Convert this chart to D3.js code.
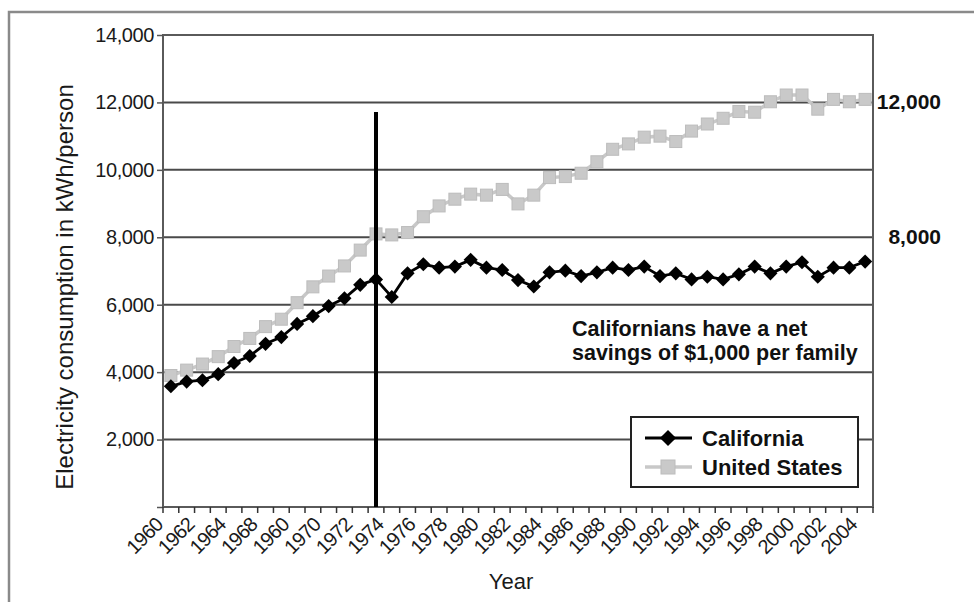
<!DOCTYPE html>
<html>
<head>
<meta charset="utf-8">
<script src="https://cdn.jsdelivr.net/npm/d3@7"></script>
<style>
  html, body { margin: 0; padding: 0; background: #fff; }
  svg { display: block; font-family: "Liberation Sans", Arial, sans-serif; }
</style>
</head>
<body>
<svg id="chart" width="974" height="602"></svg>
<script>
// ---- data ----
const years = [1960,1961,1962,1963,1964,1965,1966,1967,1968,1969,
               1970,1971,1972,1973,1974,1975,1976,1977,1978,1979,
               1980,1981,1982,1983,1984,1985,1986,1987,1988,1989,
               1990,1991,1992,1993,1994,1995,1996,1997,1998,1999,
               2000,2001,2002,2003,2004];
const california = [3580,3720,3760,3940,4270,4480,4840,5040,5430,5660,
                    5960,6190,6590,6750,6230,6930,7200,7100,7130,7330,
                    7100,7030,6730,6540,6960,7010,6850,6960,7100,7030,
                    7130,6850,6930,6750,6830,6750,6900,7130,6930,7130,
                    7260,6830,7100,7100,7280];
const unitedStates = [3900,4060,4240,4460,4760,5000,5350,5570,6060,6530,
                      6850,7150,7620,8100,8070,8140,8610,8930,9130,9280,
                      9250,9420,8990,9250,9770,9800,9900,10240,10610,10770,
                      10970,11000,10840,11150,11360,11530,11730,11710,12020,12220,
                      12220,11800,12090,12020,12090];
const xTickLabels = ["1960","1962","1964","1968","1960","1970","1972","1974",
                     "1976","1978","1980","1982","1984","1986","1988","1990",
                     "1992","1994","1996","1998","2000","2002","2004"];
const yTicks = [0,2000,4000,6000,8000,10000,12000,14000];
const markerYear = 1973;
const rightLabels = [12000, 8000];
const annotation = ["Californians have a net", "savings of $1,000 per family"];
const seriesNames = ["California", "United States"];

// ---- layout ----
const svg = d3.select("#chart");
const L = 163, R = 873, T = 35, B = 507;

// outer frame
svg.append("rect").attr("x", 9).attr("y", 12).attr("width", 1000).attr("height", 700)
  .attr("fill", "none").attr("stroke", "#8a8a8a").attr("stroke-width", 2.5);

const x = d3.scaleBand().domain(years).range([L, R]).padding(0);
const cx = d => x(d) + x.bandwidth() / 2;
const y = d3.scaleLinear().domain([0, 14000]).range([B, T]);

// gridlines
svg.append("g").selectAll("line").data(yTicks.filter(v => v > 0 && v < 14000)).join("line")
  .attr("x1", L).attr("x2", R).attr("y1", d => y(d)).attr("y2", d => y(d))
  .attr("stroke", "#4a4a4a").attr("stroke-width", 2);

// plot frame
svg.append("rect").attr("x", L).attr("y", y(14000)).attr("width", R - L).attr("height", y(0) - y(14000))
  .attr("fill", "none").attr("stroke", "#5a5a5a").attr("stroke-width", 2);

// y axis ticks + labels
const yAxis = d3.axisLeft(y).tickValues(yTicks).tickSize(6).tickPadding(3)
  .tickFormat(d => d === 0 ? "" : d3.format(",")(d));
const gy = svg.append("g").attr("transform", `translate(${L},0)`).call(yAxis);
gy.select(".domain").remove();
gy.selectAll(".tick line").attr("stroke", "#555").attr("stroke-width", 1.5);
gy.selectAll(".tick text").attr("font-size", 20).attr("fill", "#1a1a1a")
  .attr("font-family", "'Liberation Sans', Arial, sans-serif").attr("letter-spacing", "-0.4");

// x axis ticks at band boundaries
const boundaries = years.map(d => x(d)).concat([R]);
svg.append("g").selectAll("line").data(boundaries).join("line")
  .attr("x1", d => d).attr("x2", d => d).attr("y1", B).attr("y2", B + 6)
  .attr("stroke", "#333").attr("stroke-width", 1.5);
// x tick labels at every other boundary
svg.append("g").selectAll("text").data(xTickLabels).join("text")
  .attr("transform", (d, i) => `translate(${x(years[i * 2]) + 1},${B + 19}) rotate(-45)`)
  .attr("text-anchor", "end").attr("font-size", 20).attr("fill", "#1a1a1a")
  .attr("letter-spacing", "-0.8").text(d => d);

// axis titles
svg.append("text").attr("transform", `translate(73,${(T + B) / 2 + 16}) rotate(-90)`)
  .attr("text-anchor", "middle").attr("font-size", 24).attr("fill", "#1a1a1a").text("Electricity consumption in kWh/person");
svg.append("text").attr("x", 511).attr("y", 589).attr("text-anchor", "middle")
  .attr("font-size", 22).attr("fill", "#1a1a1a").text("Year");

// US series
const lineGen = d3.line().x((d, i) => cx(years[i])).y(d => y(d));
svg.append("path").datum(unitedStates).attr("d", lineGen)
  .attr("fill", "none").attr("stroke", "#c8c8c8").attr("stroke-width", 3.5);
svg.append("g").selectAll("rect").data(unitedStates).join("rect")
  .attr("x", (d, i) => cx(years[i]) - 6).attr("y", d => y(d) - 6)
  .attr("width", 12).attr("height", 12)
  .attr("fill", "#c9c9c9").attr("stroke", "#bcbcbc").attr("stroke-width", 1);

// vertical marker
svg.append("line").attr("x1", cx(markerYear)).attr("x2", cx(markerYear))
  .attr("y1", 112).attr("y2", B).attr("stroke", "#000").attr("stroke-width", 4);

// California series
svg.append("path").datum(california).attr("d", lineGen)
  .attr("fill", "none").attr("stroke", "#000").attr("stroke-width", 2.8);
const diamond = d3.symbol().type(d3.symbolSquare).size(100);
svg.append("g").selectAll("path").data(california).join("path")
  .attr("d", diamond)
  .attr("transform", (d, i) => `translate(${cx(years[i])},${y(d)}) rotate(45)`)
  .attr("fill", "#000");

// right-side labels
svg.append("g").selectAll("text").data(rightLabels).join("text")
  .attr("x", 941).attr("y", d => y(d) + 7).attr("text-anchor", "end")
  .attr("font-size", 21).attr("font-weight", "bold").attr("fill", "#111")
  .text(d => d3.format(",")(d));

// annotation
svg.append("g").selectAll("text").data(annotation).join("text")
  .attr("x", 572).attr("y", (d, i) => 336 + i * 24)
  .attr("font-size", 21.5).attr("font-weight", "bold").attr("fill", "#111").text(d => d);

// legend
const lg = svg.append("g");
lg.append("rect").attr("x", 631).attr("y", 417).attr("width", 227).attr("height", 70)
  .attr("fill", "#fff").attr("stroke", "#222").attr("stroke-width", 2);
lg.append("line").attr("x1", 645).attr("x2", 692).attr("y1", 438).attr("y2", 438)
  .attr("stroke", "#000").attr("stroke-width", 3);
lg.append("path").attr("d", d3.symbol().type(d3.symbolSquare).size(130))
  .attr("transform", "translate(668,438) rotate(45)").attr("fill", "#000");
lg.append("line").attr("x1", 645).attr("x2", 692).attr("y1", 467).attr("y2", 467)
  .attr("stroke", "#c8c8c8").attr("stroke-width", 3.5);
lg.append("rect").attr("x", 661).attr("y", 460).attr("width", 14).attr("height", 14)
  .attr("fill", "#c9c9c9").attr("stroke", "#bcbcbc");
lg.selectAll("text").data(seriesNames).join("text")
  .attr("x", 702).attr("y", (d, i) => 446 + i * 29)
  .attr("font-size", 22).attr("font-weight", "bold").attr("fill", "#111").text(d => d);
</script>
</body>
</html>
